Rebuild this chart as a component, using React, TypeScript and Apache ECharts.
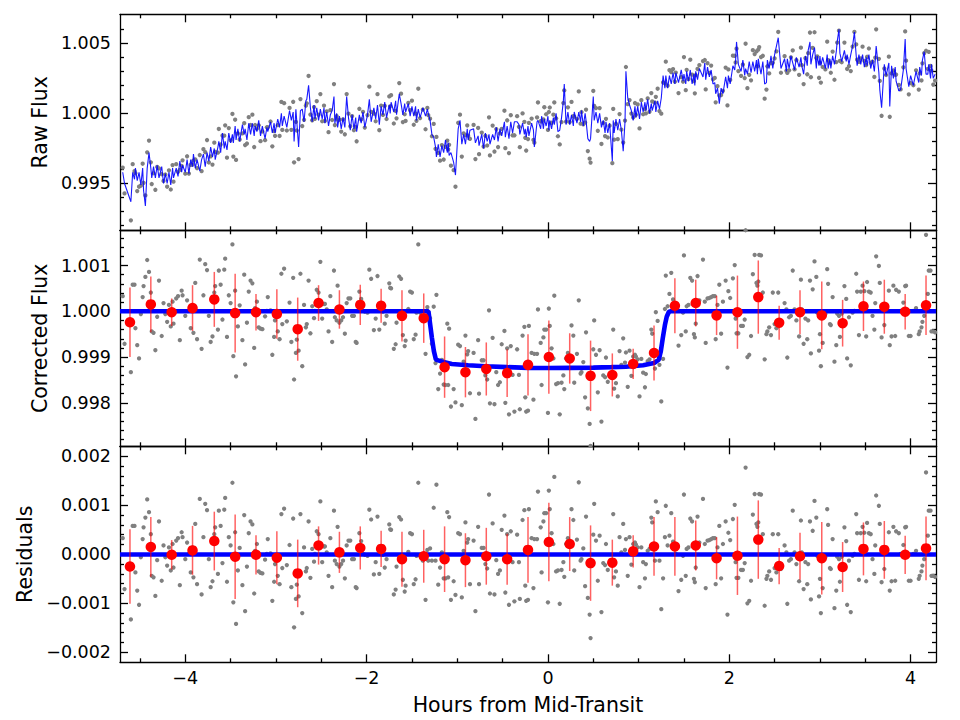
import React, { useEffect, useRef } from "react";
import * as echarts from "echarts";

// Exposure times (hours from mid-transit)
const hours = [
  -4.69, -4.67, -4.60, -4.58, -4.56, -4.55, -4.53, -4.51, -4.49, -4.47,
  -4.46, -4.44, -4.42, -4.40, -4.38, -4.37, -4.35, -4.33, -4.31, -4.29,
  -4.26, -4.24, -4.22, -4.20, -4.18, -4.16, -4.14, -4.13, -4.10, -4.08,
  -4.06, -4.04, -4.03, -4.00, -3.98, -3.96, -3.94, -3.92, -3.91, -3.89,
  -3.87, -3.84, -3.82, -3.80, -3.78, -3.76, -3.74, -3.72, -3.70, -3.68,
  -3.67, -3.64, -3.63, -3.61, -3.59, -3.57, -3.56, -3.54, -3.52, -3.50,
  -3.48, -3.47, -3.45, -3.44, -3.42, -3.40, -3.37, -3.35, -3.34, -3.32,
  -3.30, -3.28, -3.26, -3.24, -3.23, -3.21, -3.19, -3.17, -3.15, -3.12,
  -3.10, -3.09, -3.06, -3.04, -3.02, -3.01, -2.98, -2.96, -2.94, -2.93,
  -2.91, -2.88, -2.85, -2.83, -2.81, -2.80, -2.78, -2.77, -2.75, -2.73,
  -2.71, -2.69, -2.67, -2.66, -2.64, -2.62, -2.60, -2.58, -2.57, -2.55,
  -2.53, -2.51, -2.49, -2.47, -2.46, -2.44, -2.42, -2.40, -2.38, -2.36,
  -2.35, -2.33, -2.32, -2.30, -2.28, -2.26, -2.24, -2.22, -2.20, -2.18,
  -2.16, -2.14, -2.12, -2.11, -2.08, -2.06, -2.04, -2.02, -1.99, -1.97,
  -1.95, -1.92, -1.90, -1.88, -1.86, -1.84, -1.82, -1.80, -1.78, -1.75,
  -1.74, -1.73, -1.70, -1.68, -1.67, -1.64, -1.62, -1.60, -1.58, -1.57,
  -1.54, -1.52, -1.50, -1.48, -1.46, -1.45, -1.43, -1.41, -1.38, -1.35,
  -1.33, -1.32, -1.30, -1.28, -1.26, -1.24, -1.23, -1.21, -1.19, -1.17,
  -1.15, -1.13, -1.11, -1.10, -1.09, -1.07, -1.04, -1.02, -0.99, -0.97,
  -0.95, -0.93, -0.91, -0.89, -0.88, -0.86, -0.82, -0.80, -0.77, -0.76,
  -0.73, -0.71, -0.69, -0.67, -0.65, -0.64, -0.61, -0.59, -0.57, -0.55,
  -0.53, -0.51, -0.48, -0.47, -0.45, -0.43, -0.41, -0.39, -0.37, -0.34,
  -0.32, -0.31, -0.28, -0.26, -0.25, -0.24,
  -0.22, -0.21, -0.18, -0.16, -0.15, -0.12, -0.11, -0.08, -0.07, -0.05,
  -0.04, -0.02, 0.00, 0.01, 0.02, 0.04, 0.06, 0.07, 0.09, 0.11,
  0.13, 0.15, 0.17, 0.18, 0.20, 0.22, 0.24, 0.26, 0.28, 0.29,
  0.32, 0.34, 0.36, 0.37, 0.39, 0.41, 0.42, 0.44, 0.46, 0.47,
  0.50, 0.51, 0.53, 0.55, 0.57, 0.59, 0.61, 0.63, 0.64, 0.66,
  0.68, 0.71, 0.72, 0.73, 0.75, 0.77, 0.79, 0.81, 0.83, 0.85,
  0.86, 0.88, 0.90, 0.92, 0.94, 0.96, 0.97, 0.99, 1.01, 1.03,
  1.05, 1.07, 1.08, 1.10, 1.12, 1.14, 1.15, 1.18, 1.19, 1.21,
  1.23, 1.25, 1.27, 1.29, 1.30, 1.32, 1.34, 1.36, 1.38, 1.40,
  1.41, 1.44, 1.47, 1.49, 1.50, 1.52, 1.53, 1.55, 1.57, 1.59,
  1.61, 1.62, 1.63, 1.65, 1.67, 1.71, 1.73, 1.74, 1.76, 1.78,
  1.80, 1.82, 1.84, 1.85, 1.87, 1.89, 1.91, 1.93, 1.96, 1.98,
  1.99, 2.01, 2.04, 2.06, 2.07, 2.08, 2.10, 2.13, 2.15, 2.17,
  2.18, 2.20, 2.22, 2.24, 2.26, 2.28, 2.30, 2.31, 2.32, 2.33,
  2.35, 2.37, 2.39, 2.41, 2.42, 2.44, 2.46, 2.48, 2.50, 2.52,
  2.54, 2.57, 2.61, 2.63, 2.64, 2.66, 2.68, 2.70, 2.72, 2.74,
  2.77, 2.79, 2.80, 2.82, 2.84, 2.86, 2.87, 2.89, 2.90, 2.92,
  2.94, 2.96, 2.97, 2.99, 3.00, 3.01, 3.03, 3.06, 3.08, 3.09,
  3.11, 3.12, 3.14, 3.16, 3.18, 3.19, 3.21, 3.22, 3.24, 3.27,
  3.29, 3.30, 3.32, 3.34, 3.36, 3.38, 3.40, 3.41, 3.43, 3.45,
  3.47, 3.49, 3.51, 3.52, 3.54, 3.56, 3.58, 3.60, 3.61, 3.62,
  3.65, 3.66, 3.68, 3.71, 3.73, 3.76, 3.77, 3.79, 3.81, 3.83,
  3.84, 3.87, 3.89, 3.92, 3.94, 3.95, 3.98, 4.00, 4.03, 4.06,
  4.09, 4.10, 4.12, 4.13, 4.15, 4.17, 4.19, 4.20, 4.22, 4.23,
  4.25, 4.27,
];

// Raw flux per exposure, parts per thousand relative to 1
const rawFluxPpt = [
  -3.87, -5.71, -7.63, -3.62, -4.12, -4.27, -5.54, -5.23, -5.16, -3.59,
  -4.95, -5.85, -2.78, -1.94, -3.49, -5.04, -4.27, -5.45, -3.82, -3.93,
  -4.34, -4.82, -4.36, -5.23, -4.06, -5.43, -3.69, -4.87, -3.62, -4.17,
  -4.03, -3.75, -3.35, -4.30, -3.06, -4.29, -3.67, -3.66, -3.37, -3.28,
  -3.91, -2.97, -4.12, -2.55, -2.77, -1.90, -3.50, -3.07, -3.65, -2.09,
  -2.75, -2.80, -1.11, -2.22, -1.58, -1.59, -0.85, -3.16, -1.05, -1.92,
  -0.04, -3.08, -0.45, -3.32, -1.43, -1.87, -1.43, -0.70, -2.26, -2.15,
  -0.27, -0.83, -0.09, -2.40, -0.83, -1.09, -0.85, -1.98, -1.29, -1.91,
  -0.99, -0.99, -0.58, -2.35, -1.26, -1.60, -0.84, -1.61, 0.82, -1.18,
  0.73, -1.22, 0.39, -1.17, 0.83, -3.49, -0.61, -1.22, -3.26, 1.02,
  -0.90, -0.46, 0.55, 0.72, 2.67, -0.08, -0.49, 0.45, -0.39, 0.87,
  -0.09, 1.38, -0.56, 0.56, -0.54, 0.14, -1.34, 0.23, -0.47, 2.09,
  -0.83, -0.20, -0.44, -0.45, -1.30, -0.43, -1.49, 1.38, -0.02, -0.92,
  -0.20, -1.20, -0.97, -1.99, 0.33, -0.43, 0.11, -1.01, -0.13, 1.91,
  0.11, -0.01, -0.56, 1.37, -1.20, 0.56, -0.11, 0.53, -0.40, 1.21,
  0.51, 1.30, -0.72, 0.18, -0.35, 2.16, 1.41, -0.62, -0.06, -0.54,
  0.75, 0.23, 0.91, -0.81, -0.01, -0.53, 1.76, -0.33, 0.27, -1.13,
  0.39, -0.13, -0.38, -1.63, -0.75, -2.53, -1.68, -2.82, -3.37, -2.26,
  -3.29, -2.39, -1.94, -2.57, -2.24, -3.73, -4.05, -5.23, -0.67, -0.09,
  -3.08, -1.43, -1.55, -0.86, -1.59, -1.81, -0.82, -3.26, -1.04, -2.91,
  -1.37, -2.37, -1.60, -2.29, -0.28, -3.00, -0.87, -2.72, -1.12, -2.40,
  -1.43, -1.10, 0.19, -2.48, -0.49, -2.83, -0.13, -1.56, -1.56, -0.20,
  -0.96, -2.41, 0.00, -0.60, -1.74, -2.65,
  -1.83, -0.68, -0.37, -1.89, -2.09, -0.29, 0.78, -0.55, -0.57, -0.43,
  0.44, -0.06, -1.18, 0.10, 0.42, -0.67, -0.09, 0.78, -0.35, -1.63,
  -2.21, -0.62, 0.74, 1.64, -0.59, 0.43, -0.62, 0.82, -0.20, -0.23,
  -0.40, 1.57, -0.73, 0.10, -0.78, -0.65, 0.27, -2.69, -3.23, -3.51,
  1.60, 0.53, 0.38, -1.24, 0.38, -2.18, -0.68, -1.62, -0.39, -1.72,
  -0.88, -3.55, 0.32, -1.87, -0.75, -1.84, -0.05, -1.16, -2.08, -0.51,
  3.31, 0.66, 0.95, -0.01, -0.29, 0.74, -0.10, 0.64, -1.07, 0.94,
  -0.06, 0.31, 0.00, 1.07, 0.11, 1.45, 0.85, 0.77, 1.18, 1.76,
  0.17, -0.02, 2.21, 2.15, 3.69, 1.98, 3.08, 2.94, 3.16, 2.26,
  2.91, 1.45, 2.58, 2.27, 4.02, 1.66, 3.11, 2.44, 3.83, 2.77,
  2.30, 1.43, 2.73, 3.17, 3.44, 3.73, 3.81, 1.71, 3.58, 2.89,
  3.41, 2.43, 2.53, 0.79, 1.94, 1.28, 1.31, 1.61, 3.27, 0.57,
  3.14, 2.39, 4.12, 4.11, 3.64, 4.62, 3.02, 2.68, 3.48, 2.52,
  4.97, 1.80, 2.75, 2.36, 4.51, 4.23, 4.42, 3.36, 4.55, 4.73,
  4.02, 4.11, 1.05, 1.70, 3.36, 2.85, 3.58, 3.61, 3.92, 4.43,
  5.81, 2.90, 4.08, 3.04, 2.89, 3.07, 4.00, 4.49, 3.14, 3.80,
  2.75, 4.69, 3.44, 2.09, 3.94, 2.79, 4.30, 5.77, 2.58, 4.68,
  5.79, 3.95, 4.07, 2.54, 3.60, 2.20, 3.31, 3.14, 5.12, 3.80,
  3.62, 2.90, 4.41, 2.40, 3.66, 5.05, 5.90, 3.74, 3.65, 5.05,
  3.97, 3.17, 3.37, 3.02, 4.77, 5.81, 4.92, 3.83, 3.68, 3.93,
  4.76, 3.74, 3.45, 4.04, 4.63, 3.61, 3.70, 2.60, 3.98, 6.00,
  3.89, 2.32, -0.17, 3.20, 2.74, 4.05, -0.24, 2.85, 3.06, 2.76,
  2.77, 2.03, 1.71, 3.29, 5.85, 3.76, 1.36, 2.16, 2.01, 3.07,
  1.70, 2.86, 2.35, 3.57, 4.30, 4.47, 3.18, 4.39, 3.39, 3.06,
  2.06, 2.34,
];

// Systematics x transit fit to the raw flux, ppt relative to 1
const rawModelPpt = [
  -4.2, -5.0, -6.3, -4.2, -4.7, -3.9, -4.8, -4.2, -5.1, -3.9,
  -5.5, -6.6, -3.9, -2.8, -3.9, -4.6, -3.8, -4.6, -3.7, -4.6,
  -3.8, -5.0, -4.3, -5.0, -4.2, -5.1, -3.9, -4.6, -3.9, -4.5,
  -3.4, -4.2, -3.7, -4.2, -3.3, -4.3, -3.3, -3.8, -2.9, -3.9,
  -3.3, -4.1, -3.3, -2.9, -3.8, -2.8, -3.4, -2.4, -3.1, -2.5,
  -3.3, -2.4, -2.0, -2.8, -1.4, -2.5, -2.0, -2.6, -1.4, -2.1,
  -1.5, -2.1, -0.9, -1.9, -1.1, -2.0, -0.8, -1.5, -1.1, -1.9,
  -0.7, -1.5, -0.7, -1.6, -0.9, -1.3, -0.5, -1.6, -0.9, -1.8,
  -1.0, -1.3, -0.6, -1.4, -0.7, -1.4, -0.4, -1.0, 0.0, -0.9,
  -0.2, -1.0, 0.2, -0.5, 0.1, -2.0, 0.3, -0.6, -2.4, 0.2,
  0.3, -0.6, 0.9, 1.0, 2.0, 0.4, -0.6, 0.6, -0.4, 0.4,
  -0.5, 0.3, -0.4, 0.4, -0.7, 0.1, -0.9, -0.1, 0.2, 1.2,
  -0.7, 0.0, -1.0, -0.2, -1.1, -0.3, -1.0, 1.2, -0.3, -1.2,
  -0.1, -1.1, -0.3, -1.3, -0.1, -0.7, 0.1, -1.0, -0.1, 1.0,
  -0.6, 0.4, -0.4, 0.6, -0.8, 0.5, -0.1, 0.8, -0.3, 0.6,
  0.0, 0.8, 0.1, 0.9, -0.1, 1.4, 0.7, -0.1, 0.7, 0.1,
  0.7, -0.2, 0.5, -0.2, 0.5, -0.5, 0.3, -0.3, 0.4, -0.2,
  0.3, 0.0, -0.5, -1.5, -1.7, -2.4, -3.1, -2.2, -3.1, -2.3,
  -2.8, -1.9, -2.8, -2.1, -3.0, -2.8, -3.5, -4.4, -1.1, -0.5,
  -2.2, -1.5, -2.2, -1.1, -1.9, -1.2, -1.1, -2.1, -1.6, -2.3,
  -1.5, -2.5, -1.4, -2.0, -1.5, -2.2, -1.5, -1.9, -1.0, -2.0,
  -1.1, -1.6, -0.6, -1.7, -0.9, -1.8, -0.6, -1.4, -0.6, -0.6,
  -0.8, -1.5, -0.7, -1.5, -1.1, -1.7,
  -0.9, -1.6, -0.7, -1.2, -2.4, -0.6, -0.5, -1.1, -0.2, -1.1,
  -0.4, -0.9, -0.2, -1.2, -0.5, -1.1, -0.3, -0.8, 0.0, -1.3,
  -1.2, -0.3, 0.9, 2.1, -0.8, 0.1, -0.8, -0.1, -0.9, 0.1,
  -0.7, 0.1, -0.6, 0.2, -0.9, 0.0, -0.5, -1.8, -2.0, -1.8,
  1.2, -0.5, 0.1, -0.7, 0.0, -1.0, -0.5, -1.4, -0.6, -1.4,
  -0.7, -3.4, -0.5, -1.4, -0.4, -1.2, -0.4, -1.2, -2.7, -0.6,
  3.0, 1.1, 0.6, 0.2, -0.5, 0.5, -0.3, 0.5, -0.4, 0.8,
  0.1, 0.8, 0.2, 1.0, 0.0, 0.7, 0.2, 0.9, 0.1, 0.9,
  0.3, 1.1, 2.7, 1.8, 2.7, 1.8, 2.7, 2.1, 2.9, 2.1,
  2.9, 2.2, 3.1, 2.3, 2.8, 2.1, 3.0, 2.3, 3.1, 2.1,
  2.8, 2.0, 3.0, 2.4, 3.2, 2.6, 3.6, 2.4, 3.3, 2.6,
  3.1, 2.1, 2.2, 1.4, 1.8, 0.7, 1.8, 1.4, 2.6, 1.8,
  2.7, 2.1, 3.4, 3.1, 3.8, 5.1, 3.5, 3.0, 3.8, 2.7,
  3.2, 2.8, 3.7, 2.9, 3.7, 3.0, 3.8, 2.8, 3.9, 3.5,
  2.8, 3.7, 2.1, 2.2, 3.8, 3.2, 4.1, 3.2, 4.2, 4.8,
  5.4, 3.2, 3.9, 3.0, 3.9, 3.2, 4.1, 3.6, 3.1, 4.0,
  3.3, 4.0, 3.4, 2.8, 4.1, 3.4, 4.5, 5.1, 3.5, 4.2,
  4.7, 3.2, 4.1, 3.4, 4.1, 3.4, 4.0, 3.2, 4.2, 3.2,
  3.9, 3.2, 4.1, 3.5, 4.4, 5.1, 6.0, 4.3, 3.7, 4.5,
  3.7, 4.2, 3.5, 4.2, 4.8, 5.8, 4.1, 3.4, 4.2, 3.5,
  4.2, 3.3, 4.0, 3.4, 4.2, 3.2, 3.8, 3.0, 3.8, 4.8,
  2.9, 1.7, 0.4, 3.5, 2.7, 3.6, 0.5, 3.4, 2.5, 3.3,
  2.3, 1.6, 1.7, 3.1, 5.3, 3.2, 1.9, 2.7, 2.0, 3.0,
  2.2, 3.3, 2.7, 3.8, 4.4, 2.8, 2.8, 3.5, 2.5, 3.5,
  2.5, 2.8,
];

// Systematics-corrected flux per exposure, ppt relative to 1
const correctedPpt = [
  0.33, -0.71, -1.33, 0.58, 0.58, -0.37, -0.74, -1.03, -0.06, 0.31,
  0.55, 0.75, 1.12, 0.86, 0.41, -0.44, -0.47, -0.85, -0.12, 0.67,
  -0.54, 0.18, -0.06, -0.23, 0.14, -0.33, 0.21, -0.27, 0.28, 0.33,
  -0.63, 0.45, 0.35, -0.10, 0.24, 0.01, -0.37, 0.14, -0.47, 0.62,
  -0.61, 1.13, -0.82, 0.35, 1.03, 0.90, -0.10, -0.67, -0.55, 0.41,
  0.55, -0.40, 0.89, 0.58, -0.18, 0.91, 1.15, -0.56, 0.35, 0.18,
  1.46, -0.98, 0.45, -1.42, -0.33, 0.13, -0.63, 0.80, -1.16, -0.25,
  0.43, 0.67, 0.61, -0.80, 0.07, 0.21, -0.35, -0.38, -0.39, -0.11,
  0.01, 0.31, 0.02, -0.95, -0.56, -0.20, -0.44, -0.61, 0.82, -0.28,
  0.93, -0.22, 0.19, -0.67, 0.73, -1.49, -0.91, -0.62, -0.86, 0.82,
  -1.20, 0.14, -0.35, -0.28, 0.67, -0.48, 0.11, -0.15, 0.01, 0.47,
  0.41, 1.08, -0.16, 0.16, 0.16, 0.04, -0.44, 0.33, -0.67, 0.89,
  -0.13, -0.20, 0.56, -0.25, -0.20, -0.13, -0.49, 0.18, 0.28, 0.28,
  -0.10, -0.10, -0.67, -0.69, 0.43, 0.27, 0.01, -0.01, -0.03, 0.91,
  0.71, -0.41, -0.16, 0.77, -0.40, 0.06, -0.01, -0.27, -0.10, 0.61,
  0.51, 0.50, -0.82, -0.72, -0.25, 0.76, 0.71, -0.52, -0.76, -0.64,
  0.05, 0.43, 0.41, -0.61, -0.51, -0.03, 1.46, -0.03, -0.13, -0.93,
  0.09, -0.13, -0.15, -0.71, 0.10, -1.13, 0.36, -1.70, -1.36, -1.06,
  -1.60, -1.61, -0.27, -1.61, -0.38, -2.08, -1.70, -1.99, -0.73, -0.76,
  -2.05, -1.10, -0.53, -0.94, -0.87, -1.79, -0.91, -2.35, -0.63, -1.80,
  -1.07, -1.07, -1.40, -1.49, 0.02, -2.01, -0.58, -2.03, -1.33, -1.61,
  -1.55, -0.72, -0.43, -2.00, -0.81, -2.25, -0.76, -1.39, -2.19, -0.83,
  -1.39, -2.14, -0.53, -0.34, -1.88, -2.19,
  -2.17, -0.32, -0.91, -1.93, -0.93, -0.93, 0.04, -0.69, -1.61, -0.57,
  -0.40, -0.40, -2.22, 0.06, -0.32, -0.81, -1.03, 0.34, -1.59, -1.57,
  -2.25, -1.56, -1.40, -1.70, -1.03, -0.91, -1.05, -0.31, -0.53, -1.56,
  -0.93, 0.24, -1.36, -1.33, -1.11, -1.88, -0.46, -2.12, -2.46, -2.94,
  -0.83, -0.20, -0.95, -1.77, -0.85, -2.41, -1.40, -1.44, -1.01, -1.54,
  -1.40, -1.37, -0.40, -1.69, -1.57, -1.86, -0.87, -1.17, -0.59, -1.12,
  -0.90, -1.65, -0.86, -1.41, -0.99, -0.95, -0.99, -1.05, -1.86, -1.04,
  -1.34, -1.66, -1.37, -1.09, -1.05, -0.40, -0.49, -1.25, -0.02, -0.21,
  -1.17, -1.97, -1.04, 0.05, 0.78, 0.11, 0.38, 0.84, 0.26, 0.16,
  0.01, -0.75, -0.52, -0.03, 1.22, -0.44, 0.11, 0.14, 0.73, 0.67,
  -0.50, -0.57, -0.27, 0.77, 0.24, 1.13, 0.21, -0.69, 0.28, 0.29,
  0.31, 0.33, 0.33, -0.61, 0.14, 0.58, -0.49, 0.21, 0.67, -1.23,
  0.44, 0.29, 0.72, 1.01, -0.16, -0.48, -0.48, -0.32, -0.32, -0.18,
  1.77, -1.00, -0.95, -0.54, 0.81, 1.23, 0.62, 0.56, 0.65, 1.23,
  1.22, 0.41, -1.05, -0.50, -0.44, -0.35, -0.52, 0.41, -0.28, -0.37,
  0.41, -0.30, 0.18, 0.04, -1.01, -0.13, -0.10, 0.89, 0.04, -0.20,
  -0.55, 0.69, 0.04, -0.71, -0.16, -0.61, -0.20, 0.67, -0.92, 0.48,
  1.09, 0.75, -0.03, -0.86, -0.50, -1.20, -0.69, -0.06, 0.92, 0.60,
  -0.28, -0.30, 0.31, -1.10, -0.74, -0.05, -0.10, -0.56, -0.05, 0.55,
  0.27, -1.03, -0.13, -1.18, -0.03, 0.01, 0.82, 0.43, -0.52, 0.43,
  0.56, 0.44, -0.55, 0.64, 0.43, 0.41, -0.10, -0.40, 0.18, 1.20,
  0.99, 0.62, -0.57, -0.30, 0.04, 0.45, -0.74, -0.55, 0.56, -0.54,
  0.47, 0.43, 0.01, 0.19, 0.55, 0.56, -0.54, -0.54, 0.01, 0.07,
  -0.50, -0.44, -0.35, -0.23, -0.10, 1.67, 0.38, 0.89, 0.89, -0.44,
  -0.44, -0.46,
];

// Residuals after the transit fit, ppt
const residualPpt = [
  0.33, -0.71, -1.33, 0.58, 0.58, -0.37, -0.74, -1.03, -0.06, 0.31,
  0.55, 0.75, 1.12, 0.86, 0.41, -0.44, -0.47, -0.85, -0.12, 0.67,
  -0.54, 0.18, -0.06, -0.23, 0.14, -0.33, 0.21, -0.27, 0.28, 0.33,
  -0.63, 0.45, 0.35, -0.10, 0.24, 0.01, -0.37, 0.14, -0.47, 0.62,
  -0.61, 1.13, -0.82, 0.35, 1.03, 0.90, -0.10, -0.67, -0.55, 0.41,
  0.55, -0.40, 0.89, 0.58, -0.18, 0.91, 1.15, -0.56, 0.35, 0.18,
  1.46, -0.98, 0.45, -1.42, -0.33, 0.13, -0.63, 0.80, -1.16, -0.25,
  0.43, 0.67, 0.61, -0.80, 0.07, 0.21, -0.35, -0.38, -0.39, -0.11,
  0.01, 0.31, 0.02, -0.95, -0.56, -0.20, -0.44, -0.61, 0.82, -0.28,
  0.93, -0.22, 0.19, -0.67, 0.73, -1.49, -0.91, -0.62, -0.86, 0.82,
  -1.20, 0.14, -0.35, -0.28, 0.67, -0.48, 0.11, -0.15, 0.01, 0.47,
  0.41, 1.08, -0.16, 0.16, 0.16, 0.04, -0.44, 0.33, -0.67, 0.89,
  -0.13, -0.20, 0.56, -0.25, -0.20, -0.13, -0.49, 0.18, 0.28, 0.28,
  -0.10, -0.10, -0.67, -0.69, 0.43, 0.27, 0.01, -0.01, -0.03, 0.91,
  0.71, -0.41, -0.16, 0.77, -0.40, 0.06, -0.01, -0.27, -0.10, 0.61,
  0.51, 0.50, -0.82, -0.72, -0.25, 0.76, 0.71, -0.52, -0.76, -0.64,
  0.05, 0.43, 0.41, -0.61, -0.51, -0.03, 1.46, -0.03, -0.13, -0.93,
  0.09, -0.13, 0.12, -0.13, 0.95, -0.13, 1.42, -0.62, -0.27, 0.04,
  -0.49, -0.49, 0.86, -0.47, 0.76, -0.93, -0.55, -0.83, 0.43, 0.41,
  -0.88, 0.07, 0.65, 0.24, 0.31, -0.61, 0.28, -1.16, 0.56, -0.61,
  0.13, 0.13, -0.20, -0.29, 1.22, -0.80, 0.63, -0.82, -0.12, -0.40,
  -0.33, 0.50, 0.79, -0.78, 0.41, -1.03, 0.47, -0.16, -0.96, 0.40,
  -0.16, -0.91, 0.70, 0.90, -0.64, -0.95,
  -0.93, 0.92, 0.33, -0.69, 0.31, 0.31, 1.28, 0.55, -0.37, 0.67,
  0.84, 0.84, -0.98, 1.30, 0.92, 0.43, 0.21, 1.58, -0.35, -0.33,
  -1.01, -0.32, -0.16, -0.46, 0.21, 0.33, 0.18, 0.92, 0.70, -0.33,
  0.30, 1.47, -0.13, -0.10, 0.12, -0.65, 0.77, -0.89, -1.23, -1.71,
  0.40, 1.03, 0.28, -0.54, 0.38, -1.18, -0.18, -0.22, 0.21, -0.32,
  -0.18, -0.15, 0.82, -0.47, -0.35, -0.64, 0.35, 0.04, 0.62, 0.09,
  0.31, -0.44, 0.35, -0.21, 0.21, 0.24, 0.20, 0.14, -0.67, 0.14,
  -0.16, -0.49, -0.20, 0.07, 0.11, 0.75, 0.65, -0.13, 1.08, 0.86,
  -0.13, -1.12, -0.49, 0.35, 0.99, 0.18, 0.38, 0.84, 0.26, 0.16,
  0.01, -0.75, -0.52, -0.03, 1.22, -0.44, 0.11, 0.14, 0.73, 0.67,
  -0.50, -0.57, -0.27, 0.77, 0.24, 1.13, 0.21, -0.69, 0.28, 0.29,
  0.31, 0.33, 0.33, -0.61, 0.14, 0.58, -0.49, 0.21, 0.67, -1.23,
  0.44, 0.29, 0.72, 1.01, -0.16, -0.48, -0.48, -0.32, -0.32, -0.18,
  1.77, -1.00, -0.95, -0.54, 0.81, 1.23, 0.62, 0.56, 0.65, 1.23,
  1.22, 0.41, -1.05, -0.50, -0.44, -0.35, -0.52, 0.41, -0.28, -0.37,
  0.41, -0.30, 0.18, 0.04, -1.01, -0.13, -0.10, 0.89, 0.04, -0.20,
  -0.55, 0.69, 0.04, -0.71, -0.16, -0.61, -0.20, 0.67, -0.92, 0.48,
  1.09, 0.75, -0.03, -0.86, -0.50, -1.20, -0.69, -0.06, 0.92, 0.60,
  -0.28, -0.30, 0.31, -1.10, -0.74, -0.05, -0.10, -0.56, -0.05, 0.55,
  0.27, -1.03, -0.13, -1.18, -0.03, 0.01, 0.82, 0.43, -0.52, 0.43,
  0.56, 0.44, -0.55, 0.64, 0.43, 0.41, -0.10, -0.40, 0.18, 1.20,
  0.99, 0.62, -0.57, -0.30, 0.04, 0.45, -0.74, -0.55, 0.56, -0.54,
  0.47, 0.43, 0.01, 0.19, 0.55, 0.56, -0.54, -0.54, 0.01, 0.07,
  -0.50, -0.44, -0.35, -0.23, -0.10, 1.67, 0.38, 0.89, 0.89, -0.44,
  -0.44, -0.46,
];

// Binned points (bin centres in hours, values in ppt)
const binHours = [
  -4.61, -4.38, -4.15, -3.92, -3.68, -3.45, -3.22, -2.99, -2.76, -2.53,
  -2.30, -2.07, -1.84, -1.61, -1.37, -1.14, -0.91, -0.68, -0.45, -0.22,
  0.01, 0.24, 0.47, 0.71, 0.94, 1.17, 1.40, 1.63, 1.86, 2.09,
  2.32, 2.55, 2.78, 3.02, 3.25, 3.48, 3.71, 3.94, 4.17,
];
const binCorrectedPpt = [
  -0.24, 0.15, -0.02, 0.07, 0.26, -0.04, -0.02, -0.06, -0.39, 0.18,
  0.04, 0.14, 0.12, -0.10, -0.15, -1.22, -1.33, -1.26, -1.35, -1.17,
  -1.00, -1.03, -1.41, -1.39, -1.15, -0.91, 0.12, 0.18, -0.09, -0.02,
  0.31, -0.25, -0.02, -0.09, -0.26, 0.11, 0.10, -0.01, 0.13,
];
const binResidualPpt = [
  -0.25, 0.15, -0.01, 0.08, 0.27, -0.05, -0.01, -0.07, -0.39, 0.18,
  0.04, 0.13, 0.11, -0.10, -0.04, -0.10, -0.12, -0.04, -0.10, 0.09,
  0.25, 0.21, -0.18, -0.17, 0.06, 0.16, 0.16, 0.18, -0.08, -0.03,
  0.30, -0.24, -0.04, -0.08, -0.26, 0.11, 0.09, -0.01, 0.12,
];
const binErrorPpt = [
  0.76, 0.61, 0.30, 0.50, 0.60, 0.86, 0.40, 0.54, 0.69, 0.39,
  0.42, 0.44, 0.37, 0.56, 0.54, 0.67, 0.55, 0.58, 0.52, 0.67,
  0.80, 0.55, 0.77, 0.47, 0.33, 0.60, 0.60, 0.51, 0.43, 0.80,
  0.80, 0.37, 0.48, 0.74, 0.51, 0.54, 0.59, 0.39, 0.65,
];

// Best-fit transit light curve, ppt
const modelHours = [
  -4.72, -1.318, -1.299, -1.28, -1.258, -1.236, -1.15, -1.06, -0.88, -0.69,
  -0.45, -0.22, 0.0, 0.25, 0.5, 0.7, 0.86, 1.05, 1.17, 1.223,
  1.245, 1.267, 1.29, 1.31, 1.333, 1.35, 4.28,
];
const modelPpt = [
  0, 0, -0.29, -0.58, -0.87, -1.055, -1.11, -1.15, -1.18, -1.2,
  -1.22, -1.235, -1.24, -1.235, -1.23, -1.22, -1.21, -1.18, -1.13, -1.055,
  -0.87, -0.58, -0.3, -0.12, -0.015, 0, 0,
];

// Axis ranges and ticks
const X_RANGE = [-4.72, 4.28];
const xMajorTicks = [-4, -2, 0, 2, 4];
const xMinorTicks = [-4.5, -3.5, -3, -2.5, -1.5, -1, -0.5, 0.5, 1, 1.5, 2.5, 3, 3.5];
const rawRange = [0.99166, 1.00707];
const rawMajorTicks = [0.995, 1.0, 1.005];
const rawMinorTicks = [0.992, 0.993, 0.994, 0.996, 0.997, 0.998, 0.999, 1.001, 1.002, 1.003, 1.004, 1.006];
const corrRange = [0.997051, 1.001769];
const corrMajorTicks = [0.998, 0.999, 1.0, 1.001];
const corrMinorTicks = [
  0.9972, 0.9974, 0.9976, 0.9978, 0.9982, 0.9984, 0.9986, 0.9988, 0.9992, 0.9994,
  0.9996, 0.9998, 1.0002, 1.0004, 1.0006, 1.0008, 1.0012, 1.0014, 1.0016,
];
const resRange = [-0.002204, 0.002204];
const resMajorTicks = [-0.002, -0.001, 0, 0.001, 0.002];
const resMinorTicks = [
  -0.0018, -0.0016, -0.0014, -0.0012, -0.0008, -0.0006, -0.0004, -0.0002,
  0.0002, 0.0004, 0.0006, 0.0008, 0.0012, 0.0014, 0.0016, 0.0018,
];

const FONT = "DejaVu Sans, Liberation Sans, sans-serif";
const INK = "#000000";
const GRAY = "#808080";
const BLUE = "#0000ff";
const RED = "#ff0000";
const ERR_RED = "rgba(255, 0, 0, 0.62)";

const GRID_LEFT = 120;
const GRID_WIDTH = 816;
const GRID_TOPS = [14.3, 230.3, 446.3];
const GRID_HEIGHT = 216;

const pptToFlux = (v: number) => 1 + v / 1000;
const pptToFrac = (v: number) => v / 1000;

function fmt(v: number, digits: number) {
  const s = Math.abs(v) < 1e-12 ? (0).toFixed(digits) : v.toFixed(digits);
  return s.charAt(0) === "-" ? "\u2212" + s.slice(1) : s;
}

const lineStyle = { color: INK, width: 1.3 };

function xAxesFor(grid: number, withLabels: boolean) {
  const base: any = {
    type: "value",
    gridIndex: grid,
    min: X_RANGE[0],
    max: X_RANGE[1],
    splitLine: { show: false },
    silent: true,
  };
  const major = { show: true, inside: true, length: 8, customValues: xMajorTicks, lineStyle };
  const minor = { show: true, inside: true, length: 4, customValues: xMinorTicks, lineStyle };
  return [
    {
      ...base,
      position: "bottom",
      axisLine: { show: true, onZero: false, lineStyle },
      axisTick: major,
      axisLabel: {
        show: withLabels,
        customValues: xMajorTicks,
        formatter: (v: number) => fmt(v, 0),
        color: INK,
        fontSize: 17.5,
        fontFamily: FONT,
        margin: 7,
      },
      name: withLabels ? "Hours from Mid-Transit" : "",
      nameLocation: "middle",
      nameGap: 32,
      nameTextStyle: { color: INK, fontSize: 20.5, fontFamily: FONT },
    },
    {
      ...base,
      position: "bottom",
      axisLine: { show: false, onZero: false },
      axisTick: minor,
      axisLabel: { show: false },
    },
    {
      ...base,
      position: "top",
      axisLine: { show: true, onZero: false, lineStyle },
      axisTick: major,
      axisLabel: { show: false },
    },
    {
      ...base,
      position: "top",
      axisLine: { show: false, onZero: false },
      axisTick: minor,
      axisLabel: { show: false },
    },
  ];
}

function yAxesFor(grid: number, range: number[], majors: number[], minors: number[], title: string) {
  const base: any = {
    type: "value",
    gridIndex: grid,
    min: range[0],
    max: range[1],
    splitLine: { show: false },
    silent: true,
  };
  const major = { show: true, inside: true, length: 8, customValues: majors, lineStyle };
  const minor = { show: true, inside: true, length: 4, customValues: minors, lineStyle };
  return [
    {
      ...base,
      position: "left",
      axisLine: { show: true, onZero: false, lineStyle },
      axisTick: major,
      axisLabel: {
        show: true,
        customValues: majors,
        formatter: (v: number) => fmt(v, 3),
        color: INK,
        fontSize: 17.5,
        fontFamily: FONT,
        margin: 9,
      },
      name: title,
      nameLocation: "middle",
      nameGap: 68,
      nameTextStyle: { color: INK, fontSize: 20.5, fontFamily: FONT },
    },
    {
      ...base,
      position: "left",
      axisLine: { show: false, onZero: false },
      axisTick: minor,
      axisLabel: { show: false },
    },
    {
      ...base,
      position: "right",
      axisLine: { show: true, onZero: false, lineStyle },
      axisTick: major,
      axisLabel: { show: false },
    },
    {
      ...base,
      position: "right",
      axisLine: { show: false, onZero: false },
      axisTick: minor,
      axisLabel: { show: false },
    },
  ];
}

function errorBarSeries(grid: number, values: number[], toUnit: (v: number) => number) {
  return {
    type: "custom",
    xAxisIndex: grid * 4,
    yAxisIndex: grid * 4,
    silent: true,
    z: 4,
    dimensions: ["t", "v", "lo", "hi"],
    encode: { x: 0, y: 1 },
    data: binHours.map((t, i) => [
      t,
      toUnit(values[i]),
      toUnit(values[i] - binErrorPpt[i]),
      toUnit(values[i] + binErrorPpt[i]),
    ]),
    renderItem: (_params: any, api: any) => {
      const t = api.value(0);
      const a = api.coord([t, api.value(2)]);
      const b = api.coord([t, api.value(3)]);
      return {
        type: "line",
        shape: { x1: a[0], y1: a[1], x2: b[0], y2: b[1] },
        style: { stroke: ERR_RED, lineWidth: 1.5 },
      };
    },
  };
}

function buildOption() {
  const grids = GRID_TOPS.map((top) => ({
    left: GRID_LEFT,
    width: GRID_WIDTH,
    top,
    height: GRID_HEIGHT,
    containLabel: false,
    outerBoundsMode: "none",
  }));

  const xAxis = [...xAxesFor(0, false), ...xAxesFor(1, false), ...xAxesFor(2, true)];
  const yAxis = [
    ...yAxesFor(0, rawRange, rawMajorTicks, rawMinorTicks, "Raw Flux"),
    ...yAxesFor(1, corrRange, corrMajorTicks, corrMinorTicks, "Corrected Flux"),
    ...yAxesFor(2, resRange, resMajorTicks, resMinorTicks, "Residuals"),
  ];

  const dot = { color: GRAY, opacity: 1 };
  const bigDot = { color: RED, opacity: 1 };
  const series: any[] = [
    // Raw flux panel
    {
      type: "scatter",
      xAxisIndex: 0,
      yAxisIndex: 0,
      symbol: "circle",
      symbolSize: 4.3,
      itemStyle: dot,
      clip: true,
      silent: true,
      z: 2,
      data: hours.map((t, i) => [t, pptToFlux(rawFluxPpt[i])]),
    },
    {
      type: "line",
      xAxisIndex: 0,
      yAxisIndex: 0,
      showSymbol: false,
      symbol: "none",
      lineStyle: { color: BLUE, width: 1.1, opacity: 0.9 },
      clip: true,
      silent: true,
      z: 3,
      data: hours.map((t, i) => [t, pptToFlux(rawModelPpt[i])]),
    },
    // Corrected flux panel
    {
      type: "scatter",
      xAxisIndex: 4,
      yAxisIndex: 4,
      symbol: "circle",
      symbolSize: 4.3,
      itemStyle: dot,
      clip: true,
      silent: true,
      z: 2,
      data: hours.map((t, i) => [t, pptToFlux(correctedPpt[i])]),
    },
    {
      type: "line",
      xAxisIndex: 4,
      yAxisIndex: 4,
      showSymbol: false,
      symbol: "none",
      lineStyle: { color: BLUE, width: 4.6 },
      clip: true,
      silent: true,
      z: 3,
      data: modelHours.map((t, i) => [t, pptToFlux(modelPpt[i])]),
    },
    errorBarSeries(1, binCorrectedPpt, pptToFlux),
    {
      type: "scatter",
      xAxisIndex: 4,
      yAxisIndex: 4,
      symbol: "circle",
      symbolSize: 10.5,
      itemStyle: bigDot,
      silent: true,
      z: 5,
      data: binHours.map((t, i) => [t, pptToFlux(binCorrectedPpt[i])]),
    },
    // Residuals panel
    {
      type: "scatter",
      xAxisIndex: 8,
      yAxisIndex: 8,
      symbol: "circle",
      symbolSize: 4.3,
      itemStyle: dot,
      clip: true,
      silent: true,
      z: 2,
      data: hours.map((t, i) => [t, pptToFrac(residualPpt[i])]),
      markLine: {
        silent: true,
        symbol: "none",
        label: { show: false },
        lineStyle: { color: BLUE, width: 4.6, type: "solid", opacity: 1 },
        data: [{ yAxis: 0 }],
        z: 3,
      },
    },
    errorBarSeries(2, binResidualPpt, pptToFrac),
    {
      type: "scatter",
      xAxisIndex: 8,
      yAxisIndex: 8,
      symbol: "circle",
      symbolSize: 10.5,
      itemStyle: bigDot,
      silent: true,
      z: 5,
      data: binHours.map((t, i) => [t, pptToFrac(binResidualPpt[i])]),
    },
  ];

  return {
    animation: false,
    backgroundColor: "#ffffff",
    grid: grids,
    xAxis,
    yAxis,
    series,
  };
}

export default function App() {
  const ref = useRef<HTMLDivElement>(null);
  useEffect(() => {
    if (!ref.current) return;
    const chart = echarts.init(ref.current, undefined, { renderer: "svg", width: 960, height: 720 });
    chart.setOption(buildOption() as any);
    return () => chart.dispose();
  }, []);
  return (
    <div
      ref={ref}
      style={{ position: "absolute", left: 0, top: 0, width: 960, height: 720, background: "#ffffff" }}
    />
  );
}
